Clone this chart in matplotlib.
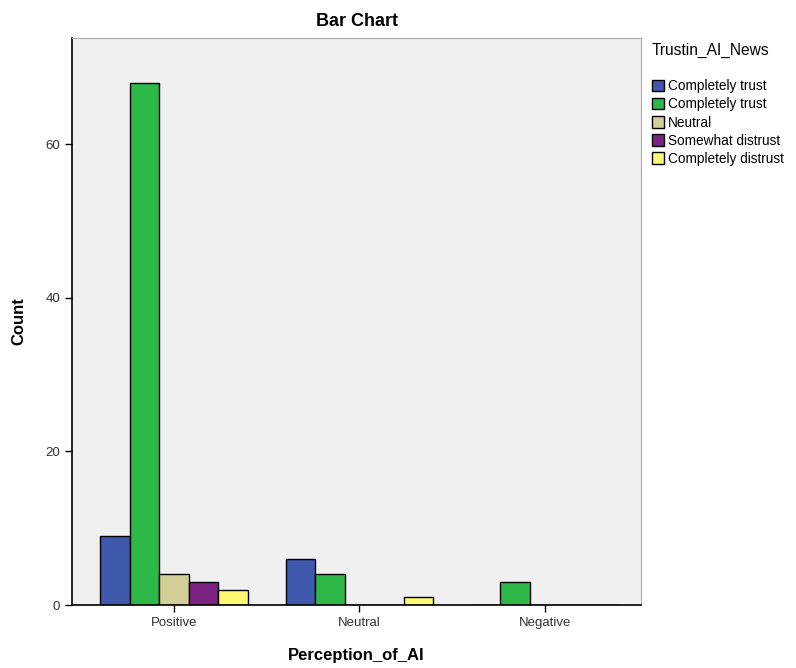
import matplotlib
matplotlib.use("Agg")
import matplotlib.pyplot as plt
import numpy as np

plt.rcParams["font.family"] = ["Liberation Sans", "DejaVu Sans"]

categories = ["Positive", "Neutral", "Negative"]
series_labels = ["Completely trust", "Completely trust", "Neutral",
                 "Somewhat distrust", "Completely distrust"]
series_values = [
    [9, 6, 0],
    [68, 4, 3],
    [4, 0, 0],
    [3, 0, 0],
    [2, 1, 0],
]
colors = ["#3E58AC", "#2EB848", "#D3CE97", "#7B2382", "#FBF873"]

fig = plt.figure(figsize=(7.96, 6.68), dpi=100)
ax = fig.add_axes([0.0905, 0.0943, 0.7148, 0.8488])
ax.set_facecolor("#F0F0F0")

x = np.arange(len(categories))
width = 0.159
for i, (lab, vals, col) in enumerate(zip(series_labels, series_values, colors)):
    ax.bar(x + (i - 2) * width, vals, width, color=col, edgecolor="black",
           linewidth=1.0, label=lab)

ax.set_xlim(-0.55, 2.52)
ax.set_ylim(0, 73.8)
ax.set_xticks(x)
ax.set_xticklabels(categories)
ax.set_yticks([0, 20, 40, 60])
ax.tick_params(direction="out", length=5, width=1, labelsize=9.5, colors="black",
               labelcolor="#333333")

for side in ["left", "bottom"]:
    ax.spines[side].set_linewidth(1.2)
for side in ["top", "right"]:
    ax.spines[side].set_color("#AAAAAA")
    ax.spines[side].set_linewidth(0.8)

ax.set_title("Bar Chart", fontsize=13, fontweight="bold", pad=9)
ax.set_xlabel("Perception_of_AI", fontsize=12, fontweight="bold", labelpad=14)
ax.set_ylabel("Count", fontsize=12, fontweight="bold", labelpad=14)

leg = ax.legend(loc="upper left", bbox_to_anchor=(1.005, 1.006), frameon=False,
                title="Trustin_AI_News\n", fontsize=9.8, title_fontsize=11.2,
                handlelength=0.9, handleheight=0.9, handletextpad=0.25,
                labelspacing=0.3, borderaxespad=0.2)
leg._legend_box.align = "left"

fig.savefig("out.png", dpi=100)
